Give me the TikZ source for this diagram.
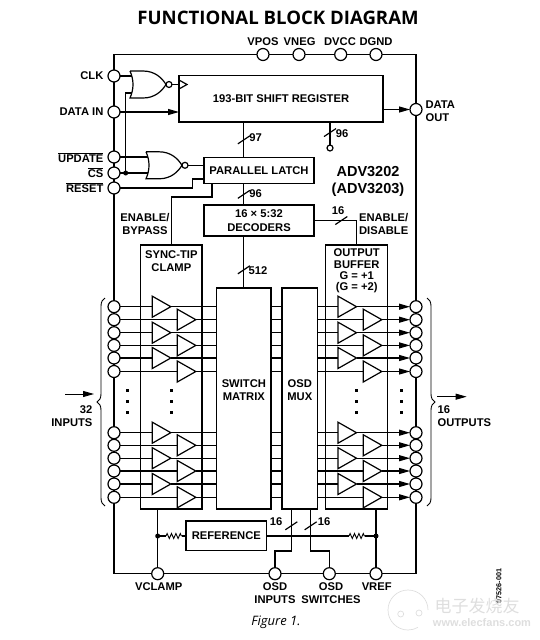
\documentclass[tikz,border=0pt]{standalone}
\usepackage{fontspec}
\setmainfont{Liberation Sans}
\newfontfamily\titlefont{Open Sans}
\newfontfamily\cjkfont{Noto Sans CJK SC}
\usetikzlibrary{arrows.meta,calc,decorations.pathreplacing,decorations.pathmorphing,shapes.geometric}
\definecolor{WatermarkGray}{RGB}{222,222,222}

\begin{document}
\begin{tikzpicture}[x=1pt,y=-1pt,line width=1.2pt,
  block/.style={draw,inner sep=0pt,outer sep=0pt,align=center,font=\bfseries\fontsize{11.2}{14}\selectfont},
  pin/.style={circle,draw,fill=white,minimum size=12pt,inner sep=0pt,outer sep=0pt},
  junction/.style={circle,fill=black,minimum size=5pt,inner sep=0pt,outer sep=0pt},
  amp/.style={isosceles triangle,isosceles triangle stretches,draw,minimum width=21pt,minimum height=18.5pt,inner sep=0pt,outer sep=0pt,anchor=lower side},
  tag/.style={inner sep=0pt,align=center,font=\bfseries\fontsize{11.2}{13}\selectfont},
  flow/.style={-{Triangle[length=11pt,width=6pt]}},
  resistor/.style={decorate,decoration={zigzag,amplitude=2.5pt,segment length=4.4pt}},
  busmark/.pic={\draw (-6,4) -- (6,-4);},
  norshape/.pic={
    \draw (0,0) -- (13,0) .. controls (25,0) and (32,7) .. (36,13.5) .. controls (32,20) and (25,27) .. (13,27) -- (0,27) .. controls (4,18) and (4,9) .. (0,0);
    \node[circle,draw,minimum size=6pt,inner sep=0pt,outer sep=0pt] (-bubble) at (39,13.5) {};
    \coordinate (-in1) at (2.4,5);
    \coordinate (-in2) at (2.4,22);
  }]
\useasboundingbox (0,0) rectangle (539,640);

% blocks
\node[block,minimum width=204pt,minimum height=46.5pt] (shiftreg) at (281,98.75) {193-BIT SHIFT REGISTER};
\node[block,minimum width=110pt,minimum height=26pt] (latch) at (259,170.7) {PARALLEL LATCH};
\node[block,minimum width=110pt,minimum height=31pt] (decoders) at (259,220.5) {16 × 5:32\\DECODERS};
\node[block,minimum width=61.3pt,minimum height=264pt] (clamp) at (171.35,377) {};
\node[block,minimum width=62pt,minimum height=264pt] (outbuf) at (356.7,377) {};
\node[block,minimum width=54.3pt,minimum height=221pt] (matrix) at (243.85,398.5) {};
\node[block,minimum width=35.7pt,minimum height=221pt] (mux) at (299.85,398.5) {};
\node[block,minimum width=80.7pt,minimum height=29.6pt] (reference) at (226.35,535.7) {REFERENCE};

% pins on the frame
\node[pin] (vpos) at (263,54.5) {};
\node[pin] (vneg) at (299,54.5) {};
\node[pin] (dvcc) at (340.7,54.5) {};
\node[pin] (dgnd) at (376,54.5) {};
\node[pin] (clk) at (114,76) {};
\node[pin] (datain) at (114,112) {};
\node[pin] (update) at (114,157) {};
\node[pin] (cs) at (114,173) {};
\node[pin] (reset) at (114,188) {};
\node[pin] (dataout) at (416,109.5) {};
\node[pin] (vclamp) at (157.7,573.7) {};
\node[pin] (osdin) at (275,573.7) {};
\node[pin] (osdsw) at (329.3,573.7) {};
\node[pin] (vref) at (376,573.7) {};

% gates
\pic (norclk) at (130,71) {norshape};
\pic (norload) at (146,151.8) {norshape};
\node[junction] (dotcs) at (125.7,173) {};
\coordinate (clkin) at (179,84.5);
\coordinate (latchrst) at (204,179);
\coordinate (latchen) at (212,183.7);
\node[circle,draw,fill=white,minimum size=6pt,inner sep=0pt,outer sep=0pt] (stub) at (330,148) {};

% 12 channels
\foreach \y/\xa/\xb [count=\i] in {306.7/152.3/338,319.7/177.3/363.3,332.7/152.3/338,345.4/177.3/363.3,358/152.3/338,371.5/177.3/363.3,
  432.7/152.3/338,445.3/177.3/363.3,458.2/152.3/338,471/177.3/363.3,484/152.3/338,497.3/177.3/363.3}{
  \node[pin] (in\i) at (114,\y) {};
  \node[pin] (out\i) at (416,\y) {};
  \node[amp] (ampin\i) at (\xa,\y) {};
  \node[amp] (ampout\i) at (\xb,\y) {};
  \draw (in\i.east) -- (ampin\i.lower side);
  \draw (ampin\i.apex) -- (ampin\i.apex -| matrix.west);
  \draw (ampin\i.apex -| matrix.east) -- (ampin\i.apex -| mux.west);
  \draw (ampout\i.lower side -| mux.east) -- (ampout\i.lower side);
  \draw[flow] (ampout\i.apex) -- (out\i.west);
}

% frame
\draw (clk.north) |- (vpos.west);
\draw (dgnd.east) -| (dataout.north);
\draw (in12.south) |- (vclamp.west);
\draw (out12.south) |- (vref.east);
\foreach \a/\b in {vpos/vneg,vneg/dvcc,dvcc/dgnd,vclamp/osdin,osdin/osdsw,osdsw/vref}
  \draw (\a.east) -- (\b.west);
\foreach \a/\b in {clk/datain,datain/update,update/cs,cs/reset,reset/in1,in1/in2,in2/in3,in3/in4,in4/in5,in5/in6,in6/in7,in7/in8,in8/in9,in9/in10,in10/in11,in11/in12,
  dataout/out1,out1/out2,out2/out3,out3/out4,out4/out5,out5/out6,out6/out7,out7/out8,out8/out9,out9/out10,out10/out11,out11/out12}
  \draw (\a.south) -- (\b.north);

% control lines
\draw (clk.east) -- (clk.east -| norclk-in1);
\draw (dotcs) |- (norclk-in2);
\draw (norclk-bubble.east) -- (clkin);
\draw ($(clkin)+(0,-4.5)$) -- ($(clkin)+(8,0)$) -- ($(clkin)+(0,4.5)$);
\draw[flow] (datain.east) -- (datain.east -| shiftreg.west);
\draw[flow] (shiftreg.east |- dataout.west) -- (dataout.west);
\draw (update.east) -- (update.east -| norload-in1);
\draw (cs.east) -- (cs.east -| norload-in2);
\draw (norload-bubble.east) -- (norload-bubble.east -| latch.west);
\draw (reset.east) -- ++(72.7,0) |- (latchrst);
\draw (latchen) -- ++(0,13.3) -| (clamp.north);
\draw (decoders.east) -| (outbuf.north) pic[pos=.32] {busmark};

% buses
\draw (matrix.north |- shiftreg.south) -- (matrix.north |- latch.north) pic[midway] {busmark};
\draw (matrix.north |- latch.south) -- (matrix.north |- decoders.north) pic[midway] {busmark};
\draw (matrix.north |- decoders.south) -- (matrix.north) pic[pos=.65] {busmark};
\draw (stub.north |- shiftreg.south) -- (stub.north) pic[pos=.46] {busmark};

% bottom
\coordinate (muxa) at (291.3,509);
\coordinate (muxb) at (310.7,509);
\node[junction] (dotclamp) at (157.7,536) {};
\node[junction] (dotref) at (376,536) {};
\coordinate (resa) at (166,536);
\coordinate (resb) at (181.7,536);
\coordinate (resc) at (349,536);
\coordinate (resd) at (365,536);
\draw (vclamp.north) -- (vclamp.north |- clamp.south);
\draw (vref.north) -- (vref.north |- outbuf.south);
\draw (dotclamp) -- (resa);
\draw[line width=.9pt,resistor] (resa) -- (resb);
\draw (resb) -- (reference.west |- resb);
\draw (reference.east |- resc) -- (resc);
\draw[line width=.9pt,resistor] (resc) -- (resd);
\draw (resd) -- (dotref);
\draw (osdin.north) -- ++(0,-16.7) -| (muxa) pic[pos=.8] {busmark};
\draw (osdsw.north) -- ++(0,-16.7) -| (muxb) pic[pos=.8] {busmark};

% dots between the channel groups
\foreach \x in {127.7,171,356.7,401}
  \foreach \y in {390,401,412}
    \fill (\x-1.5,\y-1.5) rectangle (\x+1.5,\y+1.5);

% braces and arrows
\draw[line width=.9pt,decorate,decoration={brace,amplitude=8pt}] (105,506) -- (105,298);
\draw[line width=.9pt,decorate,decoration={brace,amplitude=8pt}] (427,298) -- (427,506);
\coordinate (arrowina) at (65,394);
\coordinate (arrowinb) at (94,394);
\coordinate (arrowouta) at (437,396.7);
\coordinate (arrowoutb) at (466.7,396.7);
\draw[flow,line width=.9pt] (arrowina) -- (arrowinb);
\draw[flow,line width=.9pt] (arrowouta) -- (arrowoutb);

% labels
\node[font=\titlefont\bfseries\fontsize{18.6}{20}\selectfont,inner sep=0pt] (title) at (278,18) {FUNCTIONAL BLOCK DIAGRAM};
\node[tag] (txtvpos) at (263,42) {VPOS};
\node[tag] (txtvneg) at (299.6,42) {VNEG};
\node[tag] (txtdvcc) at (340,42) {DVCC};
\node[tag] (txtdgnd) at (376,42) {DGND};
\node[tag,anchor=east] (txtclk) at (104,76) {CLK};
\node[tag,anchor=east] (txtdatain) at (104,112) {DATA IN};
\node[tag,anchor=base east] (txtupdate) at (104,162) {$\overline{\mbox{UPDATE}}$};
\node[tag,anchor=base east] (txtcs) at (104,177.5) {$\overline{\mbox{CS}}$};
\node[tag,anchor=base east] (txtreset) at (104,192.5) {$\overline{\mbox{RESET}}$};
\node[tag,anchor=west,align=left] (txtdataout) at (425,111.5) {DATA\\OUT};
\node[tag] (txt97) at (255.5,138) {97};
\node[tag] (txt96a) at (342,134) {96};
\node[tag] (txt96b) at (255.5,194) {96};
\node[tag] (txt16a) at (338,211) {16};
\node[tag] (txt512) at (258,271) {512};
\node[tag] (txt16b) at (276,522) {16};
\node[tag] (txt16c) at (324,522) {16};
\node[tag,font=\bfseries\fontsize{14.5}{17}\selectfont] (txtadv) at (368,181.5) {ADV3202\\(ADV3203)};
\node[tag] (txtbypass) at (145,223.5) {ENABLE/\\BYPASS};
\node[tag,anchor=west,align=left] (txtdisable) at (358.5,223.5) {ENABLE/\\DISABLE};
\node[tag] (txtclamp) at (171.35,261.5) {SYNC-TIP\\CLAMP};
\node[tag,font=\bfseries\fontsize{11.2}{11.3}\selectfont] (txtbuffer) at (356.7,271) {OUTPUT\\BUFFER\\G = +1\\(G = +2)};
\node[tag] (txtmatrix) at (243.85,390) {SWITCH\\MATRIX};
\node[tag] (txtmux) at (299.85,390) {OSD\\MUX};
\node[tag,anchor=east,align=right] (txtinputs) at (93,416) {32\\INPUTS};
\node[tag,anchor=west,align=left] (txtoutputs) at (437,416) {16\\OUTPUTS};
\node[tag] (txtvclamp) at (158.7,587) {VCLAMP};
\node[tag] (txtosdin) at (275,593.5) {OSD\\INPUTS};
\node[tag] (txtosdsw) at (331,593.5) {OSD\\SWITCHES};
\node[tag] (txtvref) at (376.7,587) {VREF};
\node[font=\titlefont\itshape\fontsize{13}{15}\selectfont,inner sep=0pt] (caption) at (276,622) {Figure 1.};
\node[font=\bfseries\fontsize{7.2}{8}\selectfont,inner sep=0pt,rotate=90] (code) at (499,586) {07526-001};

% watermark
\begin{scope}[draw=WatermarkGray,text=WatermarkGray,line width=.7pt]
\draw (428,610) arc[start angle=0,end angle=300,radius=20pt];
\draw (400.7,614) circle[radius=3pt] (419,613) circle[radius=3pt];
\node[font=\cjkfont\fontsize{17}{20}\selectfont,inner sep=0pt] (marka) at (477,606) {电子发烧友};
\node[font=\bfseries\fontsize{11}{13}\selectfont,inner sep=0pt] (markb) at (482,623) {www.elecfans.com};
\end{scope}
\end{tikzpicture}
\end{document}
